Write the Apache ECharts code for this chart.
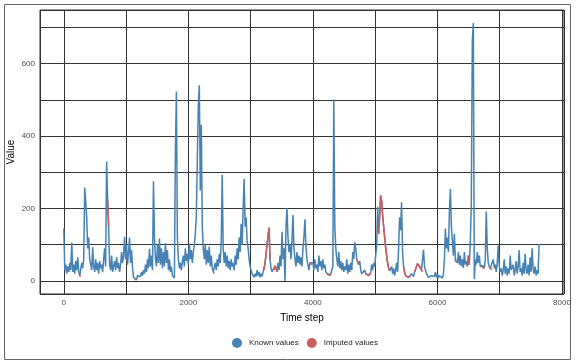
<!DOCTYPE html>
<html><head><meta charset="utf-8">
<script src="https://cdn.jsdelivr.net/npm/echarts@6/dist/echarts.min.js"></script>
<style>html,body{margin:0;padding:0;background:#fff}#c{width:576px;height:364px}</style>
</head><body><div id="c"></div>
<script>
// Time step spacing between the sampled values (read about one value per pixel)
const STEP = 16;
const values = [
145,30,45,20,40,25,50,30,106,25,
45,20,55,30,65,25,14,12,50,35,
60,258,220,175,90,120,60,45,30,93,
40,25,60,30,50,20,55,35,45,25,
60,90,40,330,225,150,45,30,70,25,
40,55,30,65,35,50,25,45,80,50,
70,122,60,100,45,80,120,50,85,35,
10,5,8,3,15,10,20,12,25,15,
30,20,45,25,60,35,89,40,70,30,
275,120,60,40,100,50,117,45,90,35,
80,40,105,50,85,30,60,25,40,15,
15,8,356,523,120,60,35,50,30,55,
70,40,90,55,75,45,103,60,85,50,
80,100,130,180,338,483,540,250,431,150,
90,60,100,45,85,50,95,40,70,35,
25,20,50,30,60,40,75,50,110,293,
90,50,80,40,70,35,55,30,60,40,
50,30,70,45,90,60,120,80,158,100,
200,282,150,176,110,90,60,40,30,20,
15,10,20,12,30,15,25,10,20,12,
25,30,50,75,100,125,147,60,35,25,
20,30,42,35,25,50,30,70,40,136,
60,90,0,150,201,120,80,100,60,110,
182,90,60,40,80,50,70,45,65,40,
90,120,170,100,60,45,30,50,51,45,
50,30,60,35,45,25,70,40,55,30,
60,35,45,25,20,18,22,15,20,25,
40,501,150,90,60,40,80,35,55,30,
50,25,40,30,60,20,45,25,50,30,
80,60,107,90,60,56,45,55,30,20,
25,15,30,20,25,20,15,18,22,45,
30,50,40,70,100,205,130,180,236,220,
180,150,120,93,70,50,35,28,25,40,
20,35,15,30,50,25,90,176,140,217,
80,40,25,15,12,15,10,12,15,20,
15,12,25,30,40,48,45,40,35,30,
25,86,40,30,20,15,10,12,8,15,
10,20,12,25,10,18,8,15,10,15,
8,20,60,145,90,120,80,194,254,150,
110,70,130,56,60,50,80,45,70,40,
60,35,80,45,55,40,70,45,110,217,
664,712,5,60,45,80,50,70,40,45,
38,42,35,60,192,90,50,40,34,30,
32,60,35,45,25,50,98,40,25,35,
15,30,60,20,40,15,35,20,70,30,
25,45,15,30,55,20,40,85,25,35,
15,50,20,75,30,20,45,15,65,25,
90,35,20,40,15,30,20,102
];
// index ranges (inclusive) of imputed values
const imputedRanges = [[16,17],[44,45],[71,73],[150,151],[201,207],[211,214],[247,249],[264,268],[294,296],[303,308],[316,327],[341,348],[352,360],[393,394],[405,407],[419,422],[427,430]];
const xTickLabels = [0,2000,4000,6000,8000];
const yTickLabels = [0,200,400,600];
const X_MIN = -382, X_MAX = 8032, Y_MIN = -36, Y_MAX = 748;

const knownData = values.map((v,i)=>[i*STEP, v]);
const imputedData = [];
imputedRanges.forEach(([a,b])=>{
  for(let i=a;i<=b;i++) imputedData.push([i*STEP, values[i]]);
  imputedData.push([b*STEP+1, null]);
});

const FONT = 'Liberation Sans, Arial, sans-serif';
const chart = echarts.init(document.getElementById('c'), null, {renderer:'canvas'});
chart.setOption({
  animation:false,
  backgroundColor:'#fff',
  textStyle:{fontFamily:FONT},
  graphic:[{type:'rect',shape:{x:4.5,y:4.5,width:566,height:355},style:{fill:'none',stroke:'#666',lineWidth:1},z:-1}],
  grid:{left:40,right:12,top:10,bottom:70,show:true,borderColor:'#333',borderWidth:1,backgroundColor:'#fff',
        containLabel:false,outerBoundsMode:'none'},
  legend:{
    left:227, top:333, icon:'circle', itemWidth:10, itemHeight:10, itemGap:8,
    textStyle:{fontSize:8,color:'#222',fontFamily:FONT,padding:[0,0,0,2]},
    data:['Known values','Imputed values']
  },
  xAxis:[
    {type:'value',min:X_MIN,max:X_MAX,splitNumber:8,
     axisLine:{show:false},axisTick:{show:false},axisLabel:{show:false},
     splitLine:{show:true,lineStyle:{color:'#333',width:1}}},
    {type:'value',min:X_MIN,max:X_MAX,splitNumber:4,position:'bottom',
     axisLine:{show:false},splitLine:{show:false},
     axisTick:{show:true,length:3,customValues:xTickLabels,lineStyle:{color:'#333'}},
     axisLabel:{show:true,customValues:xTickLabels,formatter:v=>String(v),fontSize:8,color:'#4d4d4d',margin:5,fontFamily:FONT},
     name:'Time step',nameLocation:'middle',nameGap:19,nameMoveOverlap:false,
     nameTextStyle:{fontSize:10,color:'#000',fontFamily:FONT}}
  ],
  yAxis:[
    {type:'value',min:Y_MIN,max:Y_MAX,splitNumber:8,
     axisLine:{show:false},axisTick:{show:false},axisLabel:{show:false},
     splitLine:{show:true,lineStyle:{color:'#333',width:1}}},
    {type:'value',min:Y_MIN,max:Y_MAX,splitNumber:4,position:'left',
     axisLine:{show:false},splitLine:{show:false},
     axisTick:{show:true,length:3,customValues:yTickLabels,lineStyle:{color:'#333'}},
     axisLabel:{show:true,customValues:yTickLabels,formatter:v=>String(v),fontSize:8,color:'#4d4d4d',margin:5,fontFamily:FONT},
     name:'Value',nameLocation:'middle',nameGap:24,nameMoveOverlap:false,
     nameTextStyle:{fontSize:10,color:'#000',fontFamily:FONT}}
  ],
  series:[
    {name:'Known values',type:'line',xAxisIndex:0,yAxisIndex:0,data:knownData,
     showSymbol:false,symbol:'circle',symbolSize:8,lineStyle:{width:1.5,color:'#4682B4'},itemStyle:{color:'#4682B4'},z:2},
    {name:'Imputed values',type:'line',xAxisIndex:0,yAxisIndex:0,data:imputedData,connectNulls:false,
     showSymbol:false,symbol:'circle',symbolSize:8,lineStyle:{width:1.5,color:'#CD5C5C'},itemStyle:{color:'#CD5C5C'},z:3}
  ]
});
</script></body></html>
